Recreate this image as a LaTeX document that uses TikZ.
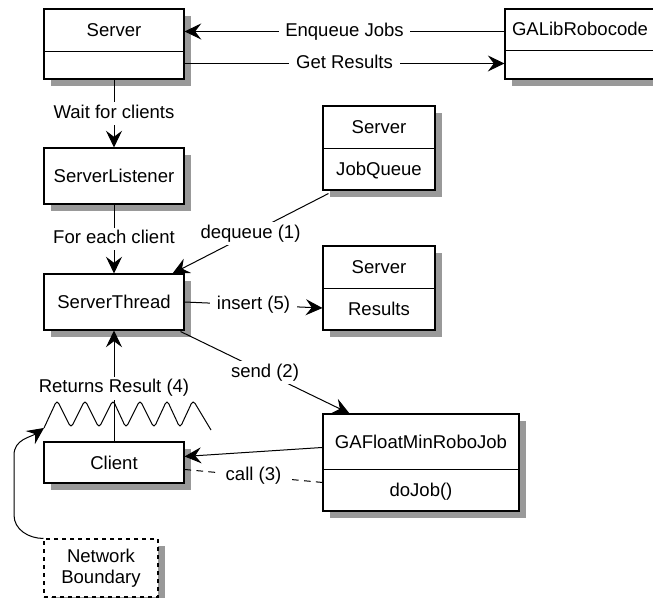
\documentclass[tikz,border=0pt]{standalone}
\usepackage{fontspec}
\setmainfont{Liberation Sans}
\usetikzlibrary{arrows.meta,shadows,calc}
\begin{document}
\begin{tikzpicture}[x=0.75pt,y=-0.75pt,
  font=\fontsize{13.9}{15.75}\selectfont,
  box/.style={draw, line width=0.8pt, fill=white, inner sep=0pt,
    drop shadow={shadow xshift=5pt, shadow yshift=-5pt, fill=black!40, opacity=1}},
  single/.style={text height=10pt, text depth=0pt},
  txt/.style={inner sep=0pt, text height=10pt, text depth=0pt},
  lbl/.style={fill=white, inner xsep=5pt, inner ysep=2pt, text height=10pt, text depth=3pt},
  conn/.style={line width=0.75pt},
  arr/.style={conn, -{Stealth[length=12.5pt,width=12pt,inset=4.5pt]}},
  divider/.style={line width=0.8pt},
]
\path[use as bounding box] (0,0) rectangle (653,598);
\clip (0,0) rectangle (653,598);
\fill[white] (0,0) rectangle (653,598);

% boxes
\node[box, minimum width=105pt, minimum height=52.5pt] (S1) at (114,44) {};
\node[txt] (S1t) at (114,30) {Server};
\draw[divider] ($(S1.north west)+(0,43)$) -- ($(S1.north east)+(0,43)$);

\node[box, minimum width=120pt, minimum height=52.5pt] (GAL) at (585,44) {};
\node[txt] (GALt) at (580,29) {GALibRobocode};
\draw[divider] ($(GAL.north west)+(0,42)$) -- ($(GAL.north east)+(0,42)$);

\node[box, single, minimum width=105pt, minimum height=42pt] (SL) at (114,176) {ServerListener};

\node[box, minimum width=84pt, minimum height=63pt] (JQ) at (379,148) {};
\node[txt] (JQt1) at (379,127) {Server};
\node[txt] (JQt2) at (379,169) {JobQueue};
\draw[divider] ($(JQ.north west)+(0,43)$) -- ($(JQ.north east)+(0,43)$);

\node[box, single, minimum width=105pt, minimum height=42pt] (ST) at (114,302) {ServerThread};

\node[box, minimum width=84pt, minimum height=63pt] (R) at (379,288) {};
\node[txt] (Rt1) at (379,267) {Server};
\node[txt] (Rt2) at (379,309) {Results};
\draw[divider] ($(R.north west)+(0,43)$) -- ($(R.north east)+(0,43)$);

\node[box, single, minimum width=105pt, minimum height=30.75pt] (C) at (114,462.5) {Client};

\node[box, minimum width=147pt, minimum height=72.75pt] (GF) at (421,462.5) {};
\node[txt] (GFt1) at (421,442) {GAFloatMinRoboJob};
\node[txt] (GFt2) at (421,490) {doJob()};
\draw[divider] ($(GF.north west)+(0,56)$) -- ($(GF.north east)+(0,56)$);

\node[box, dashed, align=center, minimum width=85.5pt, minimum height=43.5pt] (NB) at (101,568) {Network\\Boundary};

% connectors
\draw[arr] ($(GAL.north west)+(0,23)$) -- node[lbl]{Enqueue Jobs} ($(S1.north east)+(0,23)$);
\draw[arr] ($(S1.north east)+(0,55)$) -- node[lbl]{Get Results} ($(GAL.north west)+(0,55)$);
\draw[arr] (S1.south) -- node[lbl]{Wait for clients} (SL.north);
\draw[arr] (SL.south) -- node[lbl]{For each client} (ST.north);
\draw[arr] ($(JQ.south west)+(6,3)$) -- node[lbl]{dequeue (1)} ($(ST.north east)+(-12,0)$);
\draw[arr] (ST.east) -- node[lbl]{insert (5)} ($(R.west)+(0,20)$);
\draw[arr] ($(ST.south east)+(-4,1)$) -- node[lbl]{send (2)} ($(GF.north west)+(27,0)$);
\draw[arr] (C.north) -- node[lbl, pos=0.48]{Returns Result (4)} (ST.south);
\draw[arr] ($(GF.north west)+(0,34)$) -- ($(C.north east)+(0,15)$);
\draw[conn, dash pattern=on 5pt off 4pt] ($(C.north east)+(0,28)$) -- node[lbl]{call (3)} ($(GF.north west)+(0,69)$);

% network boundary zigzag
\coordinate (zz) at (44,428);
\draw[conn, rounded corners=3pt] (zz) -- (57,400) -- (71,428) -- (85,400) -- (99,428)
  -- (113,400) -- (126,428) -- (140,400) -- (154,428) -- (167,400) -- (180,428)
  -- (193,400) -- (211,430);
\draw[arr] (NB.north west) to[out=180,in=-90] (14,515) -- (14,455) to[out=90,in=215] (zz);
\end{tikzpicture}
\end{document}
